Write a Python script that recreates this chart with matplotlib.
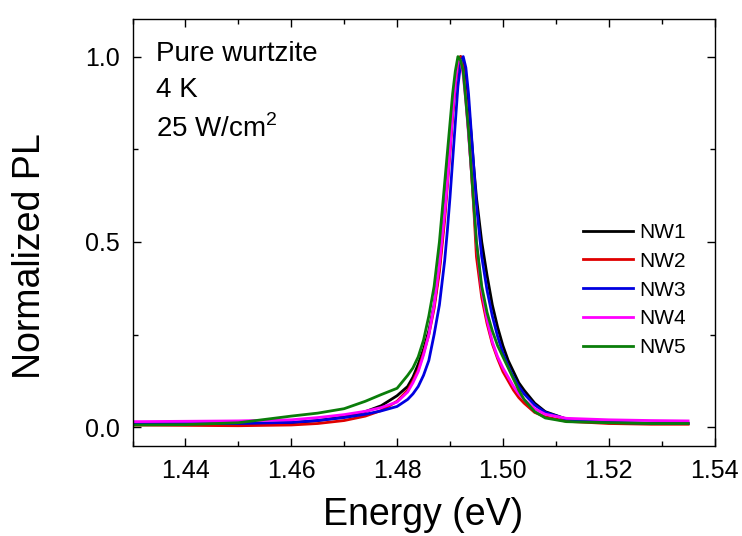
import numpy as np
import matplotlib
matplotlib.use('Agg')
import matplotlib.pyplot as plt
from matplotlib.ticker import MultipleLocator, FormatStrFormatter

plt.rcParams['font.family'] = ['Liberation Sans', 'DejaVu Sans']
plt.rcParams['mathtext.fontset'] = 'custom'
plt.rcParams['mathtext.rm'] = 'Liberation Sans'

# photon energy (eV) where each spectrum is sampled
energy = [1.430, 1.440, 1.450, 1.460, 1.465, 1.470, 1.474, 1.477, 1.480, 1.482,
          1.483, 1.484, 1.485, 1.486, 1.487, 1.488, 1.489, 1.4895, 1.490, 1.4905,
          1.491, 1.4915, 1.492, 1.4925, 1.493, 1.4935, 1.494, 1.4945, 1.495, 1.496,
          1.497, 1.498, 1.499, 1.500, 1.501, 1.502, 1.503, 1.504, 1.506, 1.508,
          1.512, 1.520, 1.528, 1.535]

nw1 = [0.008, 0.008, 0.008, 0.012, 0.018, 0.028, 0.042, 0.058, 0.085, 0.11,
       0.135, 0.17, 0.21, 0.26, 0.33, 0.43, 0.58, 0.67, 0.76, 0.85,
       0.93, 0.98, 1.00, 0.98, 0.93, 0.87, 0.79, 0.70, 0.62, 0.50,
       0.41, 0.33, 0.27, 0.22, 0.18, 0.15, 0.12, 0.10, 0.065, 0.042,
       0.022, 0.012, 0.010, 0.010]

nw2 = [0.006, 0.005, 0.004, 0.006, 0.010, 0.018, 0.030, 0.045, 0.070, 0.10,
       0.125, 0.155, 0.20, 0.25, 0.32, 0.42, 0.56, 0.65, 0.74, 0.84,
       0.92, 0.98, 1.00, 0.97, 0.89, 0.80, 0.70, 0.59, 0.46, 0.35,
       0.28, 0.225, 0.185, 0.15, 0.125, 0.10, 0.08, 0.065, 0.040, 0.028,
       0.016, 0.010, 0.008, 0.008]

nw3 = [0.010, 0.010, 0.010, 0.013, 0.018, 0.026, 0.035, 0.044, 0.056, 0.075,
       0.09, 0.11, 0.14, 0.18, 0.25, 0.33, 0.45, 0.53, 0.62, 0.72,
       0.82, 0.92, 0.98, 1.00, 0.97, 0.90, 0.80, 0.70, 0.60, 0.46,
       0.37, 0.30, 0.245, 0.20, 0.165, 0.135, 0.11, 0.09, 0.06, 0.04,
       0.022, 0.013, 0.011, 0.011]

nw4 = [0.015, 0.016, 0.017, 0.020, 0.026, 0.034, 0.043, 0.053, 0.068, 0.095,
       0.12, 0.15, 0.195, 0.25, 0.33, 0.44, 0.58, 0.66, 0.75, 0.85,
       0.93, 0.99, 0.99, 0.95, 0.88, 0.79, 0.70, 0.60, 0.50, 0.37,
       0.29, 0.23, 0.19, 0.16, 0.135, 0.11, 0.09, 0.075, 0.05, 0.035,
       0.024, 0.020, 0.018, 0.017]

nw5 = [0.006, 0.007, 0.012, 0.030, 0.038, 0.050, 0.070, 0.088, 0.105, 0.14,
       0.16, 0.19, 0.235, 0.30, 0.38, 0.50, 0.66, 0.74, 0.82, 0.90,
       0.96, 1.00, 0.99, 0.96, 0.88, 0.80, 0.70, 0.60, 0.50, 0.38,
       0.31, 0.26, 0.22, 0.19, 0.16, 0.13, 0.10, 0.075, 0.042, 0.025,
       0.015, 0.012, 0.010, 0.010]

labels = ['NW1', 'NW2', 'NW3', 'NW4', 'NW5']
colors = ['black', '#e00000', '#0000e0', '#ff00ff', '#0a7d0a']
spectra = [nw1, nw2, nw3, nw4, nw5]

fig = plt.figure(figsize=(7.42, 5.36), dpi=100)
ax = fig.add_axes([0.1786, 0.167, 0.7844, 0.798])

for y, c, lab in zip(spectra, colors, labels):
    ax.plot(energy, y, color=c, lw=2.0, label=lab)

ax.set_xlim(1.43, 1.54)
ax.set_ylim(-0.052, 1.102)
ax.set_xticks([1.44, 1.46, 1.48, 1.50, 1.52, 1.54])
ax.xaxis.set_minor_locator(MultipleLocator(0.01))
ax.set_yticks([0.0, 0.5, 1.0])
ax.yaxis.set_minor_locator(MultipleLocator(0.25))
ax.xaxis.set_major_formatter(FormatStrFormatter('%.2f'))
ax.yaxis.set_major_formatter(FormatStrFormatter('%.1f'))
ax.tick_params(which='both', direction='in', top=True, right=True, width=1.0)
ax.tick_params(which='major', length=6, labelsize=18, pad=9)
ax.tick_params(which='minor', length=3.5)
for s in ax.spines.values():
    s.set_linewidth(1.0)

ax.set_xlabel('Energy (eV)', fontsize=27, labelpad=10)
ax.set_ylabel('Normalized PL', fontsize=27)
ax.yaxis.set_label_coords(-0.145, 0.445)

ax.text(0.040, 0.901, 'Pure wurtzite', transform=ax.transAxes, fontsize=20, va='baseline')
ax.text(0.040, 0.817, '4 K', transform=ax.transAxes, fontsize=20, va='baseline')
ax.text(0.040, 0.724, r'25 W/cm$^{\mathrm{2}}$', transform=ax.transAxes, fontsize=20, va='baseline')

ax.legend(loc='upper left', bbox_to_anchor=(0.774, 0.5226), frameon=False, fontsize=15,
          handlelength=2.4, handletextpad=0.3, labelspacing=0.47, borderpad=0, borderaxespad=0)

fig.savefig('out.png', dpi=100)
